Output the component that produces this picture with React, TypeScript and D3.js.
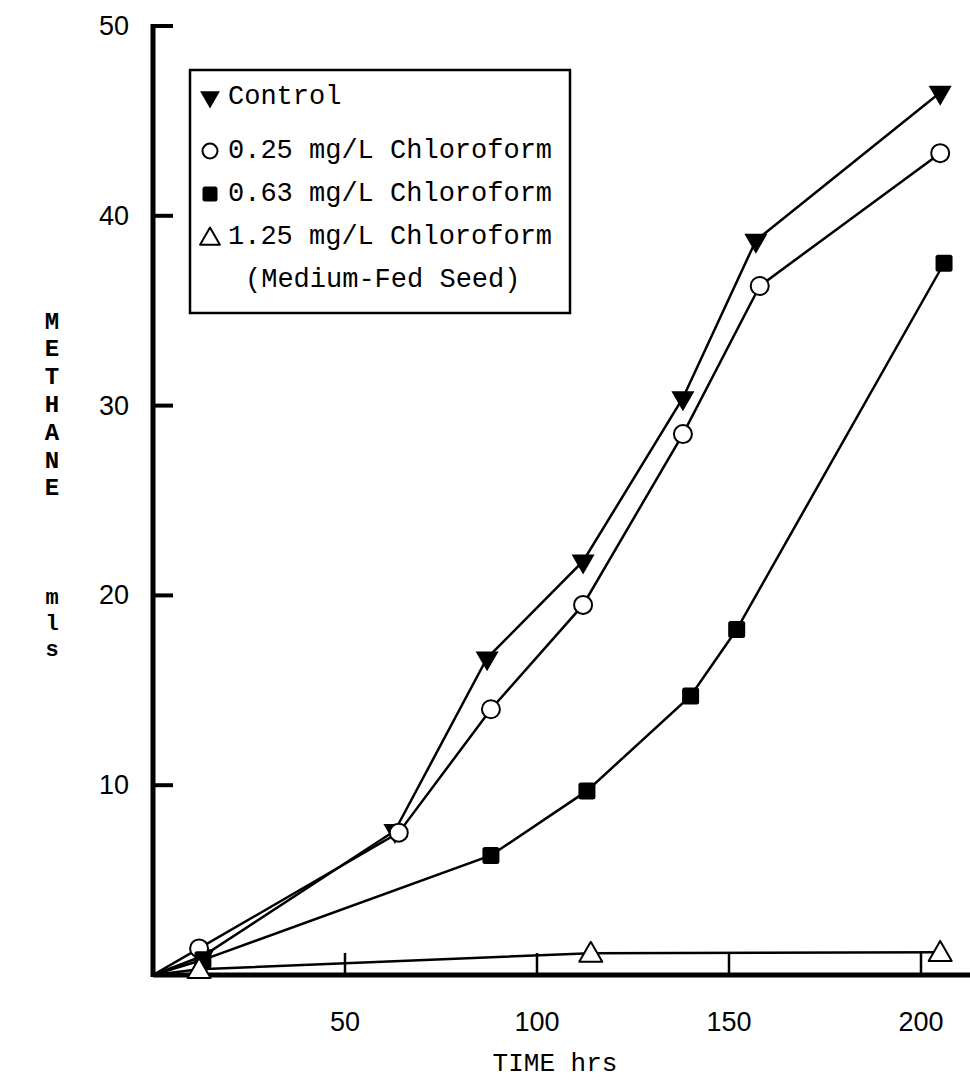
import * as d3 from "d3";

// hours / methane (ml)
const controlTime = [0, 13, 63, 87, 112, 138, 157, 205];
const controlCH4 = [0, 1.0, 7.6, 16.7, 21.8, 30.4, 38.7, 46.5];

const lowTime = [0, 12, 64, 88, 112, 138, 158, 205];
const lowCH4 = [0, 1.4, 7.5, 14.0, 19.5, 28.5, 36.3, 43.3];

const midTime = [0, 13, 88, 113, 140, 152, 206];
const midCH4 = [0, 0.8, 6.3, 9.7, 14.7, 18.2, 37.5];

const highTime = [0, 12, 114, 205];
const highCH4 = [0, 0.3, 1.15, 1.2];

const legendLabels = [
  "Control",
  "0.25 mg/L Chloroform",
  "0.63 mg/L Chloroform",
  "1.25 mg/L Chloroform",
];
const legendNote = "(Medium-Fed Seed)";

const xTicks = [50, 100, 150, 200];
const yTicks = [10, 20, 30, 40, 50];
const yTitleTop = ["M", "E", "T", "H", "A", "N", "E"];
const yTitleUnit = ["m", "l", "s"];

type Marker = "down" | "circle" | "square" | "up";

const series: { t: number[]; v: number[]; marker: Marker }[] = [
  { t: controlTime, v: controlCH4, marker: "down" },
  { t: lowTime, v: lowCH4, marker: "circle" },
  { t: midTime, v: midCH4, marker: "square" },
  { t: highTime, v: highCH4, marker: "up" },
];

const mono = "'Liberation Mono', 'DejaVu Sans Mono', monospace";
const sans = "'Liberation Sans', Arial, sans-serif";

const x = d3.scaleLinear().domain([0, 200]).range([153, 921]);
const y = d3.scaleLinear().domain([0, 50]).range([975, 26]);

const tri = d3.symbol(d3.symbolTriangle, 230)()!;
const triSmall = d3.symbol(d3.symbolTriangle, 170)()!;

function MarkerShape({ kind, cx, cy, small }: { kind: Marker; cx: number; cy: number; small?: boolean }) {
  if (kind === "down") {
    return <path d={small ? triSmall : tri} transform={`translate(${cx},${cy}) rotate(180)`} fill="#000" />;
  }
  if (kind === "up") {
    return (
      <path
        d={small ? triSmall : tri}
        transform={`translate(${cx},${cy + 2})`}
        fill="#fff"
        stroke="#000"
        strokeWidth={2}
        strokeLinejoin="round"
      />
    );
  }
  if (kind === "circle") {
    return <circle cx={cx} cy={cy} r={small ? 7.5 : 9} fill="#fff" stroke="#000" strokeWidth={2} />;
  }
  const s = small ? 15 : 17;
  return <rect x={cx - s / 2} y={cy - s / 2} width={s} height={s} rx={2.5} fill="#000" />;
}

export default function App() {
  const line = d3
    .line<[number, number]>()
    .x((d) => x(d[0]))
    .y((d) => y(d[1]));

  const legendRows = [97, 151, 194, 237];

  return (
    <svg
      width={970}
      height={1083}
      style={{ position: "absolute", left: 0, top: 0, background: "#fff" }}
    >
      {/* series lines */}
      {series.map((s, i) => (
        <path
          key={"l" + i}
          d={line(s.t.map((t, j) => [t, s.v[j]] as [number, number])) || ""}
          fill="none"
          stroke="#000"
          strokeWidth={2.5}
        />
      ))}

      {/* axes */}
      <line x1={x(0)} x2={970} y1={y(0)} y2={y(0)} stroke="#000" strokeWidth={5} />
      <line x1={x(0)} x2={x(0)} y1={y(0) + 2} y2={y(50) - 2} stroke="#000" strokeWidth={5} />
      {yTicks.map((t) => (
        <g key={"yt" + t}>
          <line x1={x(0)} x2={x(0) + 20} y1={y(t)} y2={y(t)} stroke="#000" strokeWidth={4} />
          <text
            x={129}
            y={y(t)}
            textAnchor="end"
            dominantBaseline="central"
            fontFamily={sans}
            fontSize={27}
          >
            {t}
          </text>
        </g>
      ))}
      {xTicks.map((t) => (
        <g key={"xt" + t}>
          <line x1={x(t)} x2={x(t)} y1={y(0)} y2={y(0) - 22} stroke="#000" strokeWidth={2.5} />
          <text
            x={x(t)}
            y={1022}
            textAnchor="middle"
            dominantBaseline="central"
            fontFamily={sans}
            fontSize={27}
          >
            {t}
          </text>
        </g>
      ))}

      {/* markers */}
      {series.map((s, i) =>
        s.t.map((t, j) =>
          j === 0 ? null : (
            <MarkerShape key={`m${i}-${j}`} kind={s.marker} cx={x(t)} cy={y(s.v[j])} />
          )
        )
      )}

      {/* axis titles */}
      <text x={555} y={1064} textAnchor="middle" dominantBaseline="central" fontFamily={mono} fontSize={26}>
        TIME hrs
      </text>
      {yTitleTop.map((c, i) => (
        <text
          key={"yt1" + i}
          x={52}
          y={322 + i * 27.8}
          textAnchor="middle"
          dominantBaseline="central"
          fontFamily={mono}
          fontWeight="bold"
          fontSize={24}
        >
          {c}
        </text>
      ))}
      {yTitleUnit.map((c, i) => (
        <text
          key={"yt2" + i}
          x={52}
          y={598 + i * 26}
          textAnchor="middle"
          dominantBaseline="central"
          fontFamily={mono}
          fontWeight="bold"
          fontSize={22}
        >
          {c}
        </text>
      ))}

      {/* legend */}
      <rect x={190} y={70} width={380} height={243} fill="#fff" stroke="#000" strokeWidth={2.5} />
      {legendLabels.map((lab, i) => (
        <g key={"lg" + i}>
          <MarkerShape kind={series[i].marker} cx={210} cy={legendRows[i]} small />
          <text
            x={228}
            y={legendRows[i]}
            dominantBaseline="central"
            fontFamily={mono}
            fontSize={27}
          >
            {lab}
          </text>
        </g>
      ))}
      <text x={245} y={280} dominantBaseline="central" fontFamily={mono} fontSize={27}>
        {legendNote}
      </text>
    </svg>
  );
}
